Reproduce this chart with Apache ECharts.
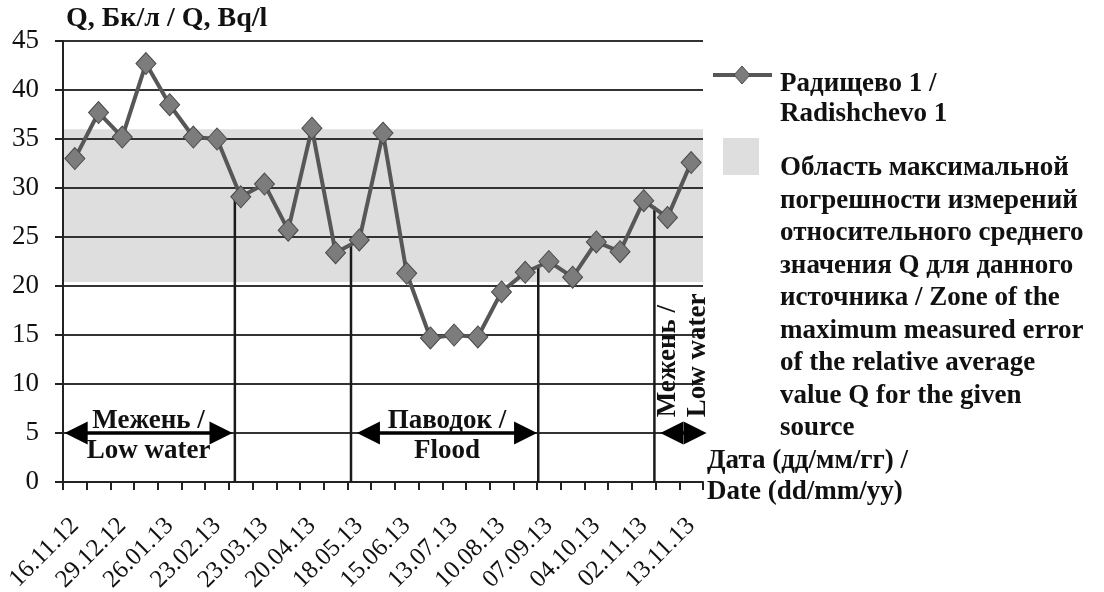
<!DOCTYPE html>
<html>
<head>
<meta charset="utf-8">
<script src="https://cdn.jsdelivr.net/npm/echarts@6/dist/echarts.min.js"></script>
<style>
html,body{margin:0;padding:0;background:#fff;}
#chart{width:1104px;height:592px;}
</style>
</head>
<body>
<div id="chart"></div>
<script>
// ---- data ----
const tickLabels = ['16.11.12','29.12.12','26.01.13','23.02.13','23.03.13','20.04.13','18.05.13',
  '15.06.13','13.07.13','10.08.13','07.09.13','04.10.13','02.11.13','13.11.13'];
const values = [33.0, 37.7, 35.2, 42.7, 38.5, 35.2, 35.0, 29.1, 30.4, 25.7, 36.1, 23.4, 24.7, 35.6,
  21.3, 14.7, 15.0, 14.8, 19.4, 21.4, 22.5, 20.9, 24.5, 23.5, 28.7, 27.0, 32.6];
const zoneLow = 20.4;
const zoneHigh = 36.0;
const phaseLinePos = [7.25, 12.15, 20.05, 24.95];
const phaseLineTop = [29.5, 24.1, 22.0, 28.1];
const arrowFrom = [0.07, 12.4, 25.2];
const arrowTo = [7.15, 20.0, 27.15];
const arrowLevel = 5;
const arrowTop = ['Межень /', 'Паводок /', ''];
const arrowBottom = ['Low water', 'Flood', ''];
const sideLabel = 'Межень /\nLow water';
const sideLabelPos = [26.15, 6.6];
const yTitle = 'Q, Бк/л / Q, Bq/l';
const xTitle = 'Дата (дд/мм/гг) /\nDate (dd/mm/yy)';
const seriesName = 'Радищево 1 /\nRadishchevo 1';
const zoneName = 'Область максимальной\nпогрешности измерений\nотносительного среднего\nзначения Q для данного\nисточника / Zone of the\nmaximum measured error\nof the relative average\nvalue Q for the given\nsource';

const categories = values.map((v, i) => (i % 2 === 0 ? tickLabels[i / 2] : ''));
const nCat = values.length;

const SERIF = '"Liberation Serif", "Times New Roman", serif';
const BOLD = 'bold 27px ' + SERIF;
const INK = '#111';

const chart = echarts.init(document.getElementById('chart'));

const option = {
  backgroundColor: '#fff',
  animation: false,
  grid: { left: 63, top: 41, width: 640, height: 441, outerBoundsMode: 'none', containLabel: false },
  xAxis: [
    {
      type: 'category', data: categories, boundaryGap: true, z: 1,
      axisLine: { show: true, lineStyle: { color: '#222', width: 2 } },
      axisTick: { show: true, interval: 0, length: 8, lineStyle: { color: '#222', width: 2 } },
      axisLabel: { interval: 0, rotate: 45, fontSize: 25, fontFamily: SERIF, color: INK, margin: 40 },
      splitLine: { show: false }
    },
    { type: 'value', min: 0, max: nCat, show: false, gridIndex: 0 }
  ],
  yAxis: {
    type: 'value', min: 0, max: 45, interval: 5, z: 1,
    axisLine: { show: true, lineStyle: { color: '#222', width: 2 } },
    axisTick: { show: true, length: 8, lineStyle: { color: '#222', width: 2 } },
    axisLabel: { fontSize: 27, fontFamily: SERIF, color: INK, margin: 24 },
    splitLine: { show: true, lineStyle: { color: '#333', width: 2 } }
  },
  series: [
    {
      type: 'custom', name: 'zone', xAxisIndex: 1, z: 0, silent: true,
      data: [[0, zoneLow, nCat, zoneHigh]],
      renderItem: function (params, api) {
        const p1 = api.coord([api.value(0), api.value(3)]);
        const p2 = api.coord([api.value(2), api.value(1)]);
        return { type: 'rect', shape: { x: p1[0], y: p1[1], width: p2[0] - p1[0], height: p2[1] - p1[1] },
          style: { fill: '#dedede' } };
      }
    },
    {
      type: 'custom', name: 'phases', xAxisIndex: 1, z: 2, silent: true,
      data: phaseLinePos.map((p, i) => [p, phaseLineTop[i]]),
      renderItem: function (params, api) {
        const a = api.coord([api.value(0), 0]);
        const b = api.coord([api.value(0), api.value(1)]);
        return { type: 'line', shape: { x1: a[0], y1: a[1], x2: b[0], y2: b[1] },
          style: { stroke: '#1a1a1a', lineWidth: 2.5 } };
      }
    },
    {
      type: 'custom', name: 'arrows', xAxisIndex: 1, z: 4, silent: true,
      data: arrowFrom.map((f, i) => [f, arrowTo[i], arrowLevel]),
      renderItem: function (params, api) {
        const i = params.dataIndex;
        const a = api.coord([api.value(0), api.value(2)]);
        const b = api.coord([api.value(1), api.value(2)]);
        const L = 23, H = 23;
        const y = a[1];
        const cx = (a[0] + b[0]) / 2;
        const children = [
          { type: 'line', shape: { x1: a[0] + 4, y1: y, x2: b[0] - 4, y2: y }, style: { stroke: '#000', lineWidth: 3.5 } },
          { type: 'polygon', shape: { points: [[a[0], y], [a[0] + L, y - H / 2], [a[0] + L, y + H / 2]] }, style: { fill: '#000' } },
          { type: 'polygon', shape: { points: [[b[0], y], [b[0] - L, y - H / 2], [b[0] - L, y + H / 2]] }, style: { fill: '#000' } }
        ];
        if (arrowTop[i]) {
          children.push({ type: 'text', style: { text: arrowTop[i], x: cx, y: y - 12, align: 'center', verticalAlign: 'middle', font: BOLD, fill: INK } });
        }
        if (arrowBottom[i]) {
          children.push({ type: 'text', style: { text: arrowBottom[i], x: cx, y: y + 18, align: 'center', verticalAlign: 'middle', font: BOLD, fill: INK } });
        }
        return { type: 'group', children: children };
      }
    },
    {
      type: 'custom', name: 'sideLabel', xAxisIndex: 1, z: 4, silent: true,
      data: [sideLabelPos],
      renderItem: function (params, api) {
        const p = api.coord([api.value(0), api.value(1)]);
        return { type: 'text', x: p[0], y: p[1], rotation: Math.PI / 2,
          style: { text: sideLabel, x: 0, y: 0, align: 'left', verticalAlign: 'middle', font: BOLD, lineHeight: 30, fill: INK } };
      }
    },
    {
      type: 'line', name: seriesName, data: values, z: 3,
      lineStyle: { color: '#575757', width: 4 },
      symbol: 'diamond', symbolSize: [20, 22],
      itemStyle: { color: '#7c7c7c', borderColor: '#4a4a4a', borderWidth: 1 }
    }
  ],
  graphic: [
    { type: 'text', left: 66, top: 5, style: { text: yTitle, font: 'bold 28px ' + SERIF, fill: INK } },
    // legend: line item
    { type: 'line', shape: { x1: 713, y1: 75, x2: 772, y2: 75 }, style: { stroke: '#575757', lineWidth: 4 } },
    { type: 'polygon', shape: { points: [[742, 66], [750, 75], [742, 84], [734, 75]] }, style: { fill: '#7c7c7c', stroke: '#4a4a4a', lineWidth: 1 } },
    { type: 'text', x: 780, y: 69, style: { text: seriesName, font: BOLD, lineHeight: 30, fill: INK, verticalAlign: 'top' } },
    // legend: zone item
    { type: 'rect', shape: { x: 723, y: 138, width: 36, height: 37 }, style: { fill: '#dedede' } },
    { type: 'text', x: 780, y: 152, style: { text: zoneName, font: BOLD, lineHeight: 32.5, fill: INK, verticalAlign: 'top' } },
    // x axis title
    { type: 'text', x: 707, y: 446, style: { text: xTitle, font: BOLD, lineHeight: 31, fill: INK, verticalAlign: 'top' } }
  ]
};
chart.setOption(option);
</script>
</body>
</html>
